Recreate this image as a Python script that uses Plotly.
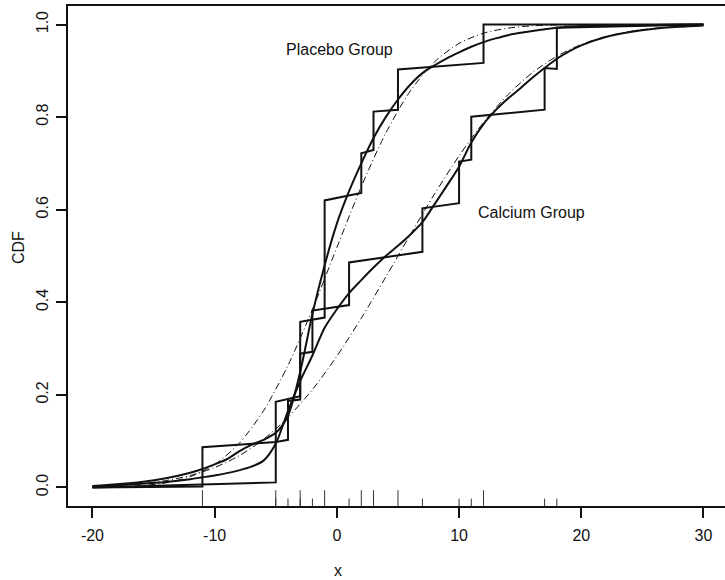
import plotly.graph_objects as go

# Raw observations for the two groups
placebo_obs = [-1, 12, -1, -3, 3, -5, 5, 2, -11, -1, -3]
calcium_obs = [7, -4, 18, 17, -3, -5, 1, 10, 11, -2]

# Empirical CDF staircases: jump locations and the level at the start / end of each tread
placebo_jumps = [-20, -11, -5, -3, -1, 2, 3, 5, 12, 30]
placebo_tread_start = [0.000, 0.087, 0.185, 0.358, 0.620, 0.722, 0.812, 0.903, 1.000]
placebo_tread_end = [0.002, 0.098, 0.197, 0.367, 0.636, 0.729, 0.816, 0.917, 1.000]

calcium_jumps = [-20, -5, -4, -3, -2, 1, 7, 10, 11, 17, 18, 30]
calcium_tread_start = [0.000, 0.098, 0.187, 0.289, 0.382, 0.486, 0.603, 0.704, 0.801, 0.906, 0.993]
calcium_tread_end = [0.011, 0.103, 0.190, 0.293, 0.394, 0.509, 0.614, 0.708, 0.816, 0.904, 1.000]

# Smoothed CDF estimates
smooth_x = [-20, -18, -16, -14, -12, -11, -10, -9, -8, -7, -6, -5, -4, -3, -2, -1, 0,
            1, 2, 3, 4, 5, 6, 7, 8, 9, 10, 11, 12, 13, 14, 15, 16, 17, 18, 19, 20,
            22, 24, 26, 28, 30]
placebo_smooth = [0.003, 0.007, 0.012, 0.020, 0.032, 0.040, 0.050, 0.061, 0.078, 0.092,
                  0.103, 0.118, 0.155, 0.250, 0.375, 0.480, 0.570, 0.640, 0.700, 0.755,
                  0.800, 0.838, 0.870, 0.895, 0.912, 0.927, 0.940, 0.952, 0.962, 0.970,
                  0.977, 0.982, 0.986, 0.990, 0.993, 0.995, 0.997, 0.998, 0.999, 0.999,
                  1.000, 1.000]
calcium_smooth = [0.002, 0.005, 0.008, 0.012, 0.018, 0.022, 0.026, 0.031, 0.037, 0.045,
                  0.058, 0.095, 0.165, 0.230, 0.285, 0.345, 0.385, 0.420, 0.448, 0.475,
                  0.500, 0.522, 0.546, 0.573, 0.612, 0.652, 0.693, 0.745, 0.785, 0.815,
                  0.840, 0.862, 0.885, 0.906, 0.926, 0.942, 0.955, 0.973, 0.984, 0.991,
                  0.995, 0.998]

# Fitted normal CDFs
normal_x = [-20, -18, -16, -14, -12, -10, -8, -6, -4, -2, 0, 2, 4, 6, 8, 10, 12, 14,
            16, 18, 20, 22, 24, 26, 28, 30]
placebo_normal = [0.0004, 0.0013, 0.0038, 0.0100, 0.0234, 0.0496, 0.0951, 0.1658, 0.2637,
                  0.3847, 0.5183, 0.6498, 0.7654, 0.8561, 0.9195, 0.9592, 0.9812, 0.9922,
                  0.9971, 0.9990, 0.9997, 0.9999, 1.0, 1.0, 1.0, 1.0]
calcium_normal = [0.0021, 0.0042, 0.0081, 0.0149, 0.0259, 0.0431, 0.0685, 0.1041, 0.1515,
                  0.2116, 0.2837, 0.3657, 0.4545, 0.5455, 0.6343, 0.7163, 0.7884, 0.8485,
                  0.8959, 0.9315, 0.9569, 0.9741, 0.9851, 0.9919, 0.9958, 0.9979]

x_ticks = [-20, -10, 0, 10, 20, 30]
x_tick_text = ["-20", "-10", "0", "10", "20", "30"]
y_ticks = [0.0, 0.2, 0.4, 0.6, 0.8, 1.0]
y_tick_text = ["0.0", "0.2", "0.4", "0.6", "0.8", "1.0"]

INK = "#111111"
FONT = "Liberation Sans, Arial, Helvetica, sans-serif"
FS = 16


def staircase(jumps, starts, ends):
    xs, ys = [], []
    for i in range(len(starts)):
        xs += [jumps[i], jumps[i + 1]]
        ys += [starts[i], ends[i]]
    return xs, ys


def rug(values, top):
    xs, ys = [], []
    for v in sorted(set(values)):
        xs += [v, v, None]
        ys += [-0.04, top, None]
    return xs, ys


fig = go.Figure()

for jumps, starts, ends in [(placebo_jumps, placebo_tread_start, placebo_tread_end),
                            (calcium_jumps, calcium_tread_start, calcium_tread_end)]:
    sx, sy = staircase(jumps, starts, ends)
    fig.add_trace(go.Scatter(x=sx, y=sy, mode="lines",
                             line=dict(color=INK, width=2), hoverinfo="skip"))

for ys in (placebo_smooth, calcium_smooth):
    fig.add_trace(go.Scatter(x=smooth_x, y=ys, mode="lines",
                             line=dict(color=INK, width=2, shape="spline", smoothing=0.8),
                             hoverinfo="skip"))

for ys in (placebo_normal, calcium_normal):
    fig.add_trace(go.Scatter(x=normal_x, y=ys, mode="lines",
                             line=dict(color=INK, width=1, dash="7px,3px,1px,3px",
                                       shape="spline", smoothing=0.8),
                             hoverinfo="skip"))

# Rug of observations along the bottom of the frame
rx, ry = rug(calcium_obs, -0.024)
fig.add_trace(go.Scatter(x=rx, y=ry, mode="lines", line=dict(color="#333333", width=1),
                         hoverinfo="skip"))
rx, ry = rug(placebo_obs, -0.006)
fig.add_trace(go.Scatter(x=rx, y=ry, mode="lines", line=dict(color="#333333", width=1),
                         hoverinfo="skip"))

fig.add_annotation(x=0.25, y=0.946, text="Placebo Group", showarrow=False,
                   xanchor="center", yanchor="middle",
                   font=dict(family=FONT, size=FS, color=INK))
fig.add_annotation(x=15.9, y=0.593, text="Calcium Group", showarrow=False,
                   xanchor="center", yanchor="middle",
                   font=dict(family=FONT, size=FS, color=INK))

# Axis titles
fig.add_annotation(xref="paper", yref="paper", x=(18 - 68) / 657, y=(506 - 248) / 500,
                   text="CDF", textangle=-90, showarrow=False,
                   xanchor="center", yanchor="middle",
                   font=dict(family=FONT, size=FS, color=INK))
fig.add_annotation(xref="paper", yref="paper", x=(338 - 68) / 657, y=(506 - 570) / 500,
                   text="x", showarrow=False, xanchor="center", yanchor="middle",
                   font=dict(family=FONT, size=FS, color=INK))

fig.update_layout(
    width=725, height=580,
    margin=dict(l=68, r=0, t=6, b=74),
    paper_bgcolor="white", plot_bgcolor="white",
    showlegend=False,
    font=dict(family=FONT, size=FS, color=INK),
)
fig.update_xaxes(range=[-22, 31.76], tickvals=x_ticks, ticktext=x_tick_text,
                 ticks="outside", ticklen=10,
                 tickwidth=1.5, tickcolor=INK, showline=True, linecolor=INK, linewidth=1.5,
                 mirror=True, showgrid=False, zeroline=False, ticklabelstandoff=4)
fig.update_yaxes(range=[-0.04, 1.04], tickvals=y_ticks, ticktext=y_tick_text,
                 ticks="outside",
                 ticklen=10, tickwidth=1.5, tickcolor=INK, showline=True, linecolor=INK,
                 linewidth=1.5, mirror=False, showgrid=False, zeroline=False,
                 tickangle=-90, ticklabelstandoff=2)

fig.write_html("out.html")
